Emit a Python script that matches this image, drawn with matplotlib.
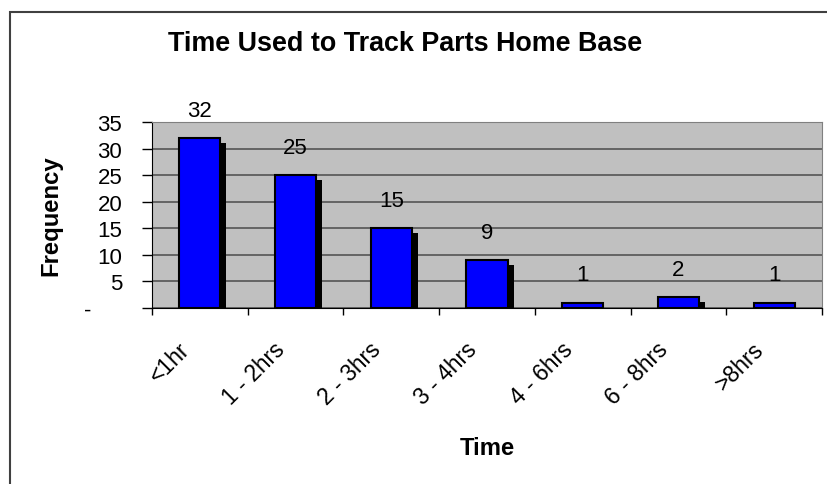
"""Frequency of time used to track parts home base, Excel-style column chart."""

import matplotlib

matplotlib.use("Agg")
import matplotlib.pyplot as plt
import matplotlib.patheffects as pe
from matplotlib.patches import Rectangle
from matplotlib.transforms import ScaledTranslation

plt.rcParams["font.family"] = ["Liberation Sans", "DejaVu Sans"]

categories = ["<1hr", "1 - 2hrs", "2 - 3hrs", "3 - 4hrs", "4 - 6hrs", "6 - 8hrs", ">8hrs"]
frequency = [32, 25, 15, 9, 1, 2, 1]
y_ticks = [0, 5, 10, 15, 20, 25, 30, 35]
y_tick_labels = ["-     ", "5", "10", "15", "20", "25", "30", "35"]

W, H = 827, 485
fig = plt.figure(figsize=(W / 100, H / 100), dpi=100)
fig.patch.set_facecolor("white")

# chart-area frame (runs off the right and bottom edges in the original)
fig.patches.append(Rectangle((10 / W, -0.2), 1.2, (H - 13) / H + 0.2,
                             transform=fig.transFigure, fill=False,
                             edgecolor="#404040", linewidth=1.5))

ax = fig.add_axes([152 / W, 1 - 309 / H, 670 / W, 186 / H])
ax.set_facecolor("#C0C0C0")

x = list(range(len(categories)))
shadow = [pe.SimplePatchShadow(offset=(4.3, -3.6), shadow_rgbFace="black", alpha=1.0),
          pe.Normal()]
bars = ax.bar(x, frequency, width=0.43, color="#0000FF", edgecolor="black",
              linewidth=1.5, zorder=3)
for b in bars:
    b.set_path_effects(shadow)

for i, v in zip(x, frequency):
    ax.annotate(str(v), (i, v), xytext=(0, 20), textcoords="offset points",
                ha="center", va="center", fontsize=16)

ax.set_xlim(-0.5, len(categories) - 0.5)
ax.set_ylim(0, 35)
ax.yaxis.grid(True, color="#555555", linewidth=1.2)
ax.set_axisbelow(True)

ax.set_yticks(y_ticks)
ax.set_yticklabels(y_tick_labels, fontsize=16)
ax.tick_params(axis="y", length=7, width=1, pad=14.5, direction="out")

ax.set_xticks(x)
ax.set_xticklabels(categories, fontsize=16.5, rotation=45, ha="right",
                   va="top", rotation_mode="anchor")
ax.tick_params(axis="x", which="major", length=0, pad=21)
ax.set_xticks([i + 0.5 for i in x[:-1]] + [-0.5, len(x) - 0.5], minor=True)
ax.tick_params(axis="x", which="minor", length=5, width=1, direction="out")
for lab in ax.get_xticklabels():
    lab.set_transform(lab.get_transform() + ScaledTranslation(-0.22, 0, fig.dpi_scale_trans))

for side in ["top", "right"]:
    ax.spines[side].set_color("#808080")
for side in ["left", "bottom"]:
    ax.spines[side].set_color("black")

ax.set_ylabel("Frequency", fontsize=17.2, fontweight="bold")
ax.yaxis.set_label_coords((62 - 152) / 670, 0.5)
ax.set_xlabel("Time", fontsize=17.2, fontweight="bold")
ax.xaxis.set_label_coords(0.5, (309 - 437) / 186)

fig.text(405 / W, 1 - 44 / H, "Time Used to Track Parts Home Base",
         ha="center", va="center", fontsize=19.4, fontweight="bold")

fig.savefig("out.png", dpi=100)
